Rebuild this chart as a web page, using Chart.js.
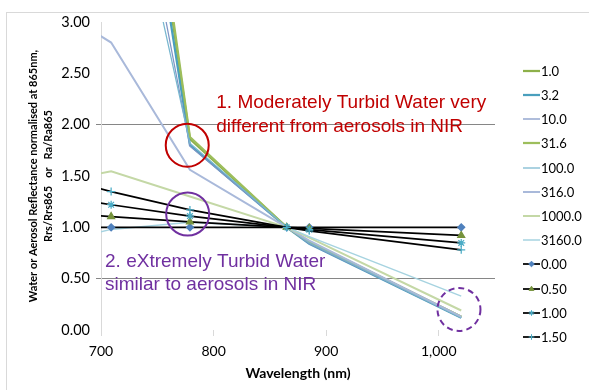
<!DOCTYPE html>
<html><head><meta charset="utf-8">
<script src="https://cdn.jsdelivr.net/npm/chart.js@4/dist/chart.umd.min.js"></script>
<style>
html,body{margin:0;padding:0;background:#fff;}
#wrap{position:relative;width:589px;height:390px;overflow:hidden;}
#frame{position:absolute;left:6px;top:12px;width:620px;height:420px;border:1px solid #d9d9d9;}
#c{position:absolute;left:0;top:0;}
#legend{position:absolute;left:0;top:0;font-family:Lato,sans-serif;font-size:13px;color:#000;}
.li{position:absolute;left:523px;height:16px;display:flex;align-items:center;white-space:nowrap;}
.li canvas{display:block;margin-right:1px;}
</style></head>
<body><div id="wrap"><div id="frame"></div><canvas id="c" width="589" height="390"></canvas><div id="legend"></div></div>
<script>
// ---- data ----
const WAVELENGTHS = [681, 709, 779, 865, 885, 1020];
const SERIES_NAMES = ['1.0','3.2','10.0','31.6','100.0','316.0','1000.0','3160.0','0.00','0.50','1.00','1.50'];
const WATER_1_0    = [7.6, 7.1, 1.86, 1.00, 0.86, 0.13];
const WATER_3_2    = [7.3, 6.7, 1.80, 1.00, 0.84, 0.12];
const WATER_10_0   = [6.4, 5.8, 1.79, 1.00, 0.84, 0.12];
const WATER_31_6   = [7.8, 7.3, 1.88, 1.00, 0.86, 0.13];
const WATER_100_0  = [5.8, 5.3, 1.82, 1.00, 0.85, 0.12];
const WATER_316_0  = [2.99, 2.80, 1.56, 1.00, 0.87, 0.13];
const WATER_1000_0 = [1.49, 1.545, 1.30, 1.00, 0.90, 0.19];
const WATER_3160_0 = [0.91, 0.98, 1.05, 1.00, 0.91, 0.33];
const AER_0_00 = [1.00, 1.00, 1.00, 1.00, 1.00, 1.00];
const AER_0_50 = [1.127, 1.105, 1.054, 1.00, 0.989, 0.921];
const AER_1_00 = [1.270, 1.220, 1.110, 1.00, 0.977, 0.848];
const AER_1_50 = [1.432, 1.348, 1.170, 1.00, 0.966, 0.781];
const X_TICKS = [700, 800, 900, 1000];
const Y_TICKS = [0, 0.5, 1.0, 1.5, 2.0, 2.5, 3.0];
const Y_GRID_AT = [0.5, 2.0];

const SERIES_VALUES = [WATER_1_0, WATER_3_2, WATER_10_0, WATER_31_6, WATER_100_0, WATER_316_0, WATER_1000_0, WATER_3160_0, AER_0_00, AER_0_50, AER_1_00, AER_1_50];

// ---- styles ----
const STYLES = [
  {color:'#8DB04A', width:2.25},
  {color:'#4A9FBD', width:2.25},
  {color:'#7F95C6', width:1.25},
  {color:'#9DBE5C', width:2.25},
  {color:'#78B7CF', width:1.25},
  {color:'#A9B9DA', width:2},
  {color:'#C4D8A6', width:2},
  {color:'#A6D3E0', width:1.5},
  {color:'#000000', width:1.75, point:'rectRot', pColor:'#4F81BD', r:3.5},
  {color:'#000000', width:1.75, point:'triangle', pColor:'#76923C', r:4},
  {color:'#000000', width:1.75, point:'star', pColor:'#4BACC6', r:4},
  {color:'#000000', width:1.75, point:'cross', pColor:'#4BACC6', r:4}
];

const datasets = SERIES_NAMES.map((name, i) => {
  const s = STYLES[i];
  return {
    label: name,
    data: WAVELENGTHS.map((w, k) => ({x: w, y: SERIES_VALUES[i][k]})),
    borderColor: s.color,
    borderWidth: s.width,
    backgroundColor: s.color,
    pointStyle: s.point || 'circle',
    pointRadius: s.point ? s.r : 0,
    pointHoverRadius: s.point ? s.r : 0,
    pointBackgroundColor: s.pColor || s.color,
    pointBorderColor: s.pColor || s.color,
    pointBorderWidth: 1.25,
    tension: 0,
    fill: false,
    order: SERIES_NAMES.length - i
  };
});

const NOTES = [
  {x: 802.4, y: 2.21, dy: 23.5, color: '#C00000', lines: ['1. Moderately Turbid Water very', 'different from aerosols in NIR']},
  {x: 703.6, y: 0.66, dy: 22.5, color: '#7030A0', lines: ['2. eXtremely Turbid Water', 'similar to aerosols in NIR']}
];
const CIRCLES = [
  {x: 776.6, y: 1.80, r: 21.5, color: '#C00000', dash: []},
  {x: 777.0, y: 1.13, r: 21.5, color: '#7030A0', dash: []},
  {x: 1018.0, y: 0.20, r: 21.5, color: '#7030A0', dash: [6, 4]}
];

const annot = {
  id: 'annot',
  afterDatasetsDraw(chart) {
    const {ctx, scales: {x, y}} = chart;
    ctx.save();
    CIRCLES.forEach(c => {
      ctx.beginPath();
      ctx.arc(x.getPixelForValue(c.x), y.getPixelForValue(c.y), c.r, 0, Math.PI * 2);
      ctx.strokeStyle = c.color; ctx.lineWidth = 2; ctx.setLineDash(c.dash);
      ctx.stroke();
    });
    ctx.setLineDash([]);
    ctx.font = '19px "Liberation Sans", Arial, sans-serif';
    ctx.textBaseline = 'middle'; ctx.textAlign = 'left';
    NOTES.forEach(n => {
      ctx.fillStyle = n.color;
      n.lines.forEach((t, k) => ctx.fillText(t, x.getPixelForValue(n.x), y.getPixelForValue(n.y) + k * n.dy));
    });
    ctx.restore();
  }
};

new Chart(document.getElementById('c'), {
  type: 'line',
  data: {datasets},
  plugins: [annot],
  options: {
    responsive: false, animation: false, devicePixelRatio: 1,
    layout: {padding: {left: 0, right: 94, top: 22, bottom: 0}},
    plugins: {legend: {display: false}, tooltip: {enabled: false}},
    scales: {
      x: {
        type: 'linear', min: 700, max: 1050,
        afterBuildTicks: s => { s.ticks = X_TICKS.map(v => ({value: v})); },
        afterFit: s => { s.height = 60; },
        border: {display: false},
        grid: {drawOnChartArea: false, drawTicks: true, tickLength: 6, color: '#d9d9d9'},
        ticks: {font: {family: 'Lato', size: 14}, color: '#000', padding: 7, maxRotation: 0},
        title: {display: true, text: 'Wavelength (nm)', font: {family: 'Lato', size: 14, weight: 'bold'}, color: '#000', padding: {top: 0, bottom: 8.6}}
      },
      y: {
        type: 'linear', min: 0, max: 3,
        afterBuildTicks: s => { s.ticks = Y_TICKS.map(v => ({value: v})); },
        afterFit: s => { s.width = 101; },
        border: {display: true, color: '#d9d9d9', width: 1},
        grid: {
          color: c => (c.tick && Y_GRID_AT.includes(c.tick.value)) ? '#868686' : 'rgba(0,0,0,0)',
          tickLength: 5, lineWidth: 1
        },
        ticks: {font: {family: 'Lato', size: 14.5}, color: '#000', padding: 6, callback: v => Number(v).toFixed(2)},
        title: {
          display: true,
          text: ['Water or Aerosol Reflectance normalised at 865nm,', 'Rrs/Rrs865   or   Ra/Ra865'],
          font: {family: 'Lato', size: 11, weight: 'bold', lineHeight: 15 / 11},
          color: '#000', padding: {top: 25.5, bottom: 0}
        }
      }
    }
  }
});

// ---- legend (HTML, built from the same series) ----
const leg = document.getElementById('legend');
SERIES_NAMES.forEach((name, i) => {
  const s = STYLES[i];
  const item = document.createElement('div');
  item.className = 'li';
  item.style.top = (70.7 + i * 24.2 - 8) + 'px';
  const cv = document.createElement('canvas');
  cv.width = 17; cv.height = 10;
  const g = cv.getContext('2d');
  g.strokeStyle = s.color; g.lineWidth = s.width;
  g.beginPath(); g.moveTo(0, 5); g.lineTo(17, 5); g.stroke();
  if (s.point) {
    g.fillStyle = s.pColor; g.strokeStyle = s.pColor; g.lineWidth = 1;
    Chart.helpers.drawPoint(g, {pointStyle: s.point, radius: 2.8, rotation: 0, borderWidth: 1}, 8.5, 5);
  }
  const sp = document.createElement('span');
  sp.textContent = name;
  item.appendChild(cv); item.appendChild(sp);
  leg.appendChild(item);
});
</script>
</body></html>
